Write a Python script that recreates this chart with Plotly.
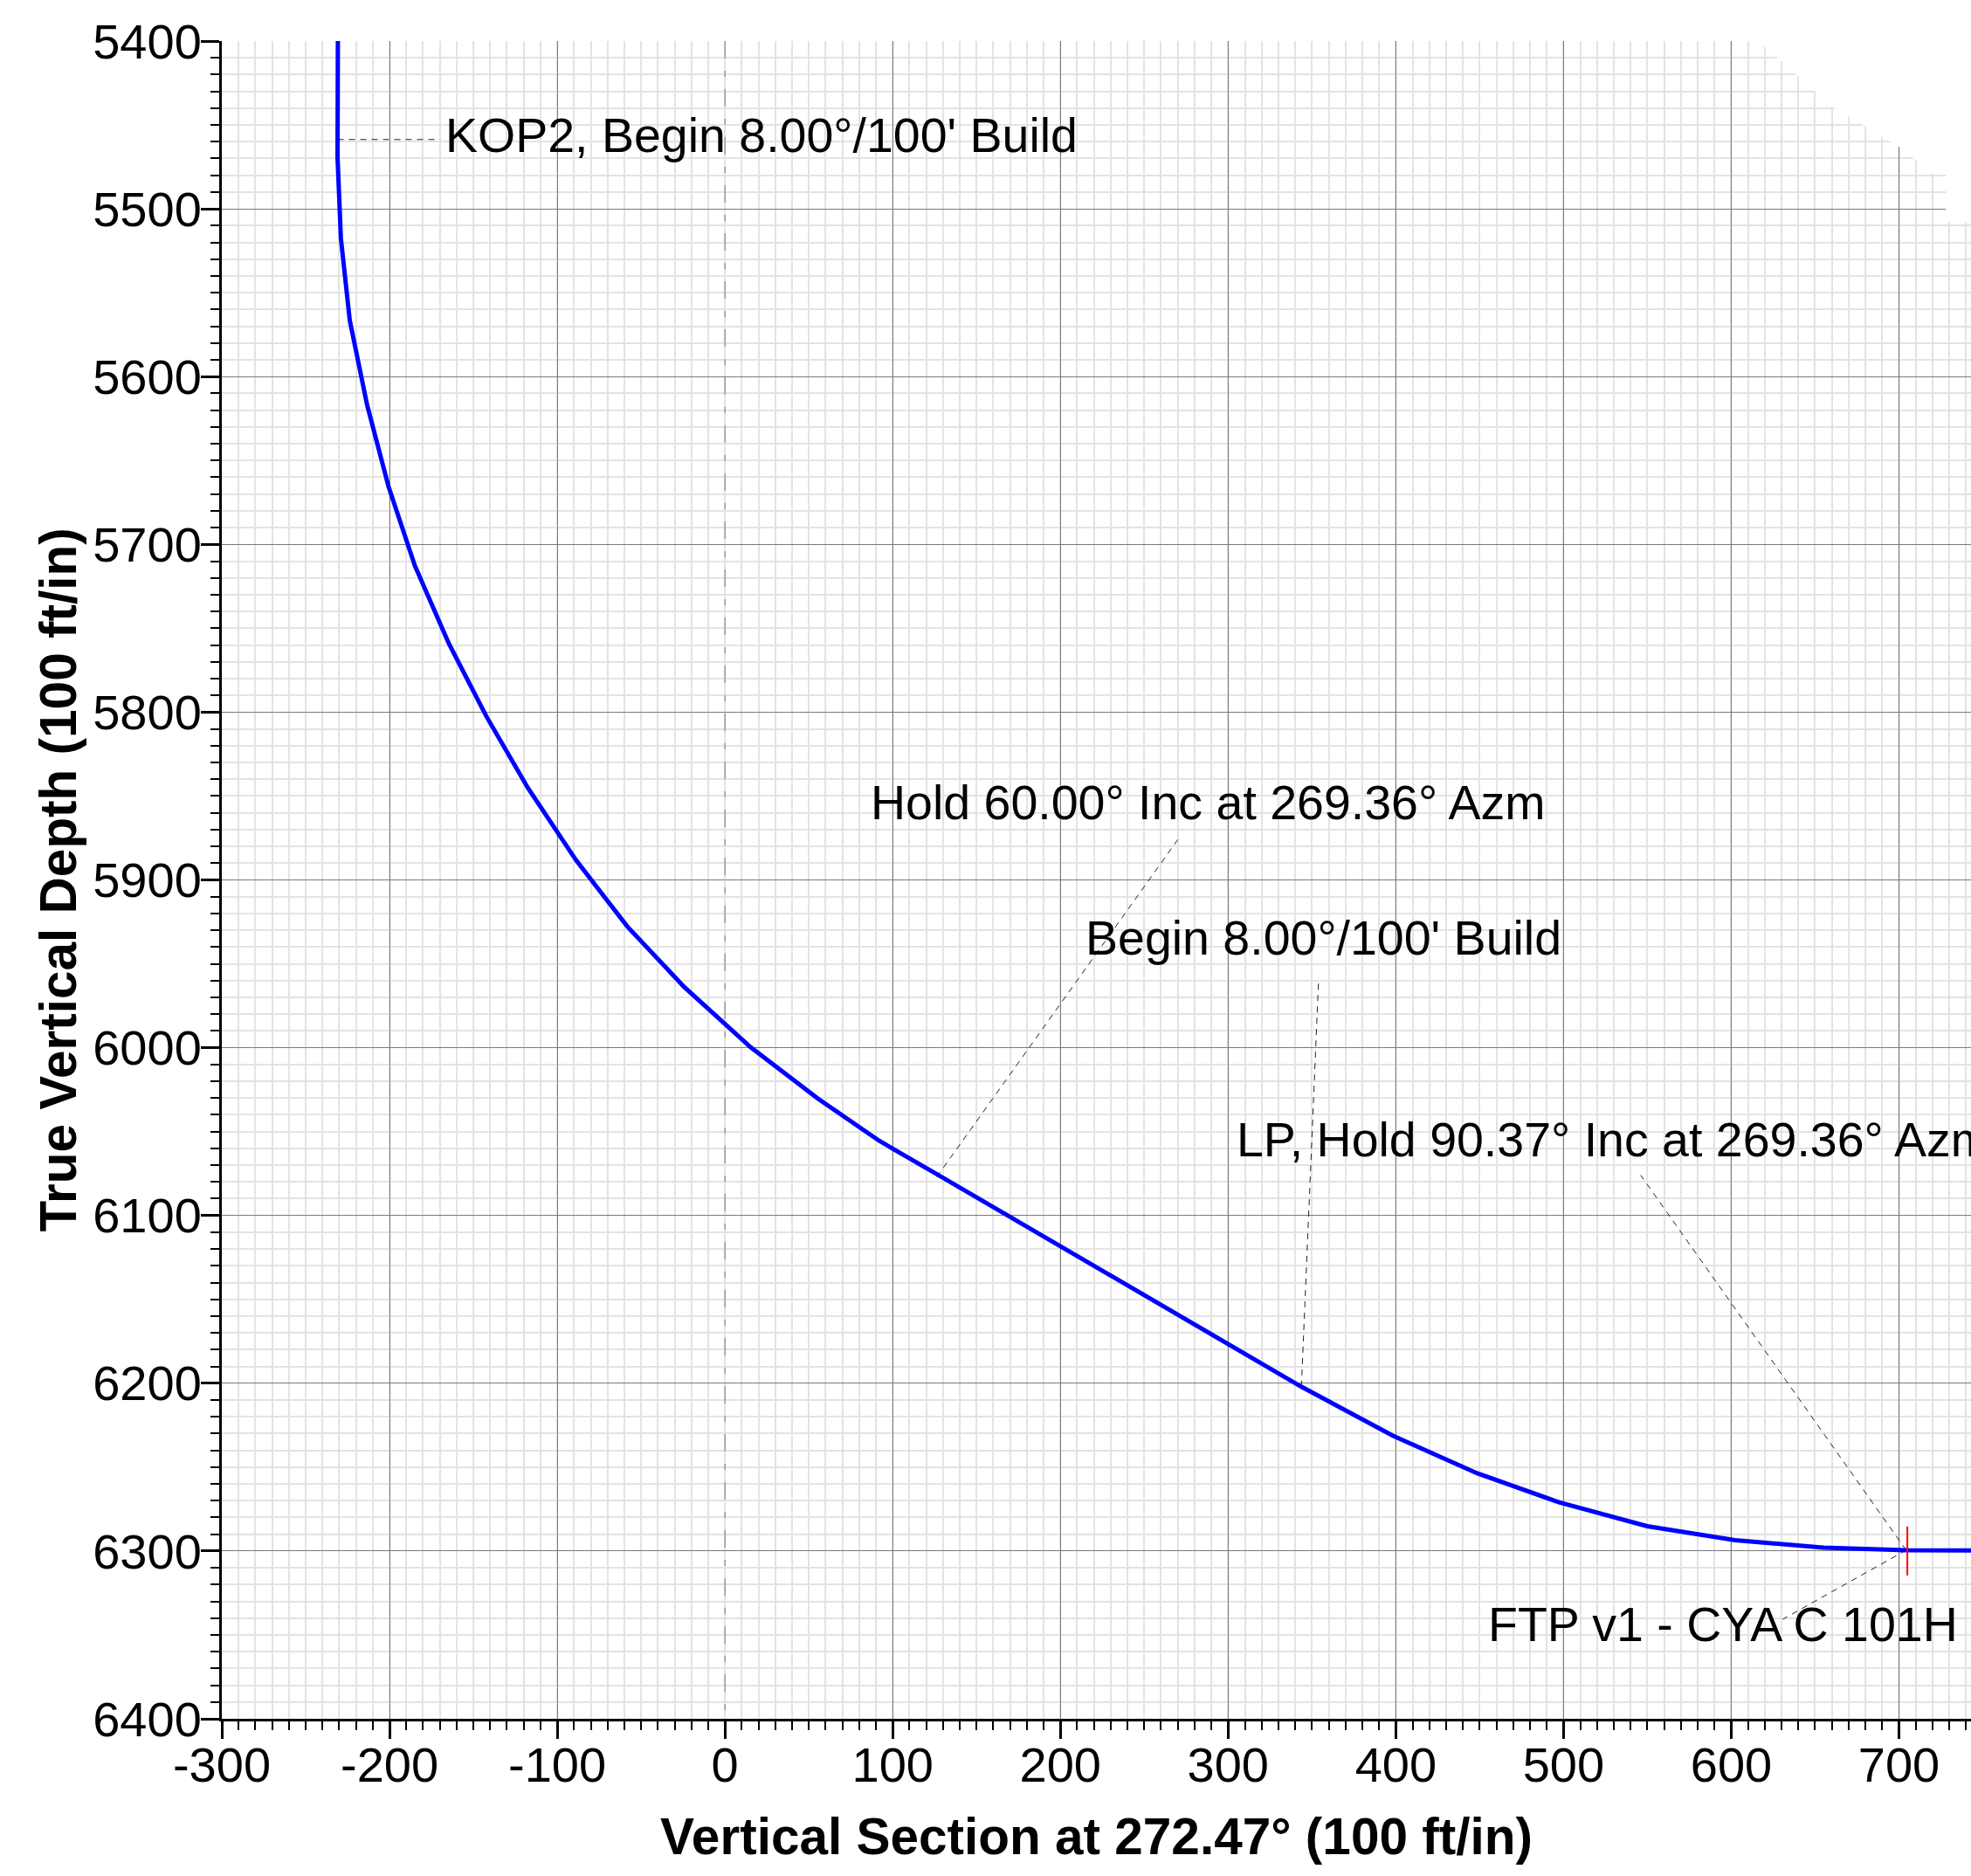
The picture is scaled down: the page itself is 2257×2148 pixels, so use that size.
import plotly.graph_objects as go

# ---- data ----
vs = [-230.8, -231.0, -231.0, -229.0, -223.7, -213.4, -200.6, -184.9, -164.6,
      -142.2, -117.4, -88.9, -58.2, -24.4, 15.3, 55.5, 92.0, 126.3,
      343.7, 398.4, 448.6, 497.4, 549.9, 602.3, 654.8, 704.3, 760.0]
tvd = [5400.0, 5458.7, 5469.2, 5517.6, 5566.5, 5616.8, 5665.5, 5712.7, 5759.2,
       5802.6, 5845.3, 5888.1, 5927.8, 5963.7, 5999.7, 6030.4, 6055.5, 6075.4,
       6202.1, 6231.3, 6253.7, 6271.0, 6285.2, 6293.5, 6298.0, 6299.5, 6299.7]

label_text = ["KOP2, Begin 8.00°/100' Build",
              "Hold 60.00° Inc at 269.36° Azm",
              "Begin 8.00°/100' Build",
              "LP, Hold 90.37° Inc at 269.36° Azm",
              "FTP v1 - CYA C 101H"]
label_vs = [-168.0, 86.0, 214.0, 304.0, 454.0]
label_tvd = [5456.0, 5854.0, 5934.5, 6055.0, 6344.0]

leader_from_vs = [-231.0, 126.3, 343.7, 704.3, 704.3]
leader_from_tvd = [5458.7, 6077.0, 6202.1, 6299.5, 6299.5]
leader_to_vs = [-170.0, 270.0, 354.0, 546.0, 630.7]
leader_to_tvd = [5458.7, 5876.0, 5958.6, 6076.0, 6340.7]

target_vs = [705.0]
target_tvd = [6300.0]

section_origin_vs = [0, 0]
section_origin_tvd = [5400, 6400]

x_ticks = [-300, -200, -100, 0, 100, 200, 300, 400, 500, 600, 700]
x_ticktext = ["-300", "-200", "-100", "0", "100", "200", "300", "400", "500", "600", "700"]
x_grid_major = [v for v in x_ticks if v != 0]

# ---- styling ----
FONT = "Liberation Sans, Arial, sans-serif"
W, H = 2257, 2148
ML, MR, MT = 254, 0, 47
PLOT_H = 1921
MB = H - MT - PLOT_H
px_per_unit = 1.9205
x_min = -300
x_max = x_min + (W - ML - MR) / px_per_unit

fig = go.Figure()

# VS origin reference (dash-dot)
fig.add_trace(go.Scatter(x=section_origin_vs, y=section_origin_tvd, xaxis="x2", yaxis="y",
                         mode="lines", line=dict(color="#8a8a8a", width=1.2, dash="20px,14px,7px,14px"),
                         hoverinfo="skip", showlegend=False))

# leaders
lx, ly = [], []
for a, b, c, d in zip(leader_from_vs, leader_from_tvd, leader_to_vs, leader_to_tvd):
    lx += [a, c, None]
    ly += [b, d, None]
fig.add_trace(go.Scatter(x=lx, y=ly, mode="lines",
                         line=dict(color="#222222", width=1, dash="7px,6px"),
                         hoverinfo="skip", showlegend=False))

# well path
fig.add_trace(go.Scatter(x=vs, y=tvd, mode="lines",
                         line=dict(color="#0000ff", width=5),
                         showlegend=False))

# target marker
fig.add_trace(go.Scatter(x=target_vs, y=target_tvd, mode="markers",
                         marker=dict(symbol="line-ns-open", size=40, color="#ff0000",
                                     line=dict(color="#ff0000", width=2)),
                         showlegend=False))

for t, x, y in zip(label_text, label_vs, label_tvd):
    fig.add_annotation(x=x, y=y, xref="x", yref="y", text=t, showarrow=False,
                       xanchor="left", yanchor="middle",
                       font=dict(family=FONT, size=55.5, color="black"))

# white cut-out at top right corner (as in reference)
fig.add_shape(type="path", xref="x", yref="y", layer="above",
              path=("M 613,5400 L 621,5404 L 640,5421 L 660,5439 L 690,5457 L 700,5463 "
                    "L 720,5479 L 728,5479 L 728,5508 L 800,5508 L 800,5380 L 613,5380 Z"),
              fillcolor="white", line=dict(width=0))

fig.update_layout(
    width=W, height=H,
    margin=dict(l=ML, r=MR, t=MT, b=MB),
    paper_bgcolor="white", plot_bgcolor="white",
    font=dict(family=FONT, color="black"),
    xaxis=dict(
        range=[x_min, x_max], tickmode="array", tickvals=x_ticks, ticktext=x_ticktext,
        showgrid=False, zeroline=False,
        showline=True, linecolor="black", linewidth=3,
        ticks="outside", ticklen=20, tickwidth=3, tickcolor="black",
        ticklabelstandoff=-18,
        tickfont=dict(family=FONT, size=56, color="black"),
        minor=dict(tickmode="linear", tick0=0, dtick=10, ticks="outside", ticklen=10,
                   tickwidth=2, tickcolor="black", showgrid=True,
                   gridcolor="#e3e3e3", gridwidth=1.5),
        title=dict(text="<b>Vertical Section at 272.47° (100 ft/in)</b>",
                   font=dict(family=FONT, size=58.5, color="black"), standoff=31),
    ),
    xaxis2=dict(
        overlaying="x", anchor="y", range=[x_min, x_max], tickmode="array",
        tickvals=x_grid_major, showticklabels=False, ticks="", showline=False,
        showgrid=True, gridcolor="#7a7a7a", gridwidth=1, zeroline=False,
    ),
    yaxis=dict(
        range=[6400, 5400], tickmode="linear", tick0=5400, dtick=100,
        showgrid=True, gridcolor="#7a7a7a", gridwidth=1, zeroline=False,
        showline=True, linecolor="black", linewidth=3,
        ticks="outside", ticklen=21, tickwidth=3, tickcolor="black",
        ticklabelstandoff=-12,
        tickfont=dict(family=FONT, size=56, color="black"),
        minor=dict(tickmode="linear", tick0=5400, dtick=10, ticks="outside", ticklen=10,
                   tickwidth=2, tickcolor="black", showgrid=True,
                   gridcolor="#e3e3e3", gridwidth=2),
        title=dict(text="<b>True Vertical Depth (100 ft/in)</b>",
                   font=dict(family=FONT, size=58.5, color="black"), standoff=0),
    ),
)

fig.write_html("out.html", config={"displayModeBar": False},
               post_script="document.body.style.margin='0';document.body.style.overflow='hidden';")
